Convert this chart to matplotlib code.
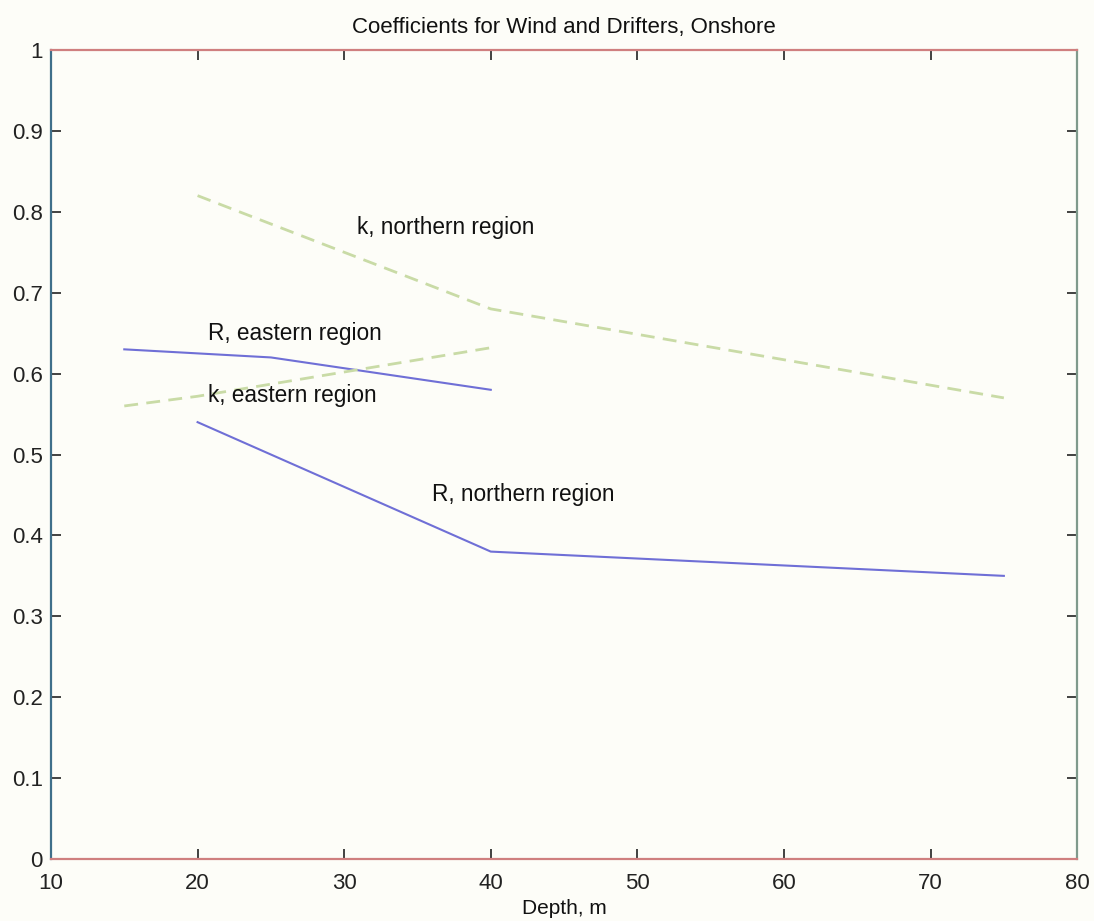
import matplotlib.pyplot as plt
import matplotlib.ticker as mticker

# data
depth_r_east = [15, 25, 40]
r_east = [0.63, 0.62, 0.58]
depth_k_east = [15, 20, 40]
k_east = [0.56, 0.572, 0.632]
depth_k_north = [20, 40, 75]
k_north = [0.82, 0.68, 0.57]
depth_r_north = [20, 40, 75]
r_north = [0.54, 0.38, 0.35]

labels = ["k, northern region", "R, eastern region", "k, eastern region", "R, northern region"]
label_x = [30.9, 20.7, 20.7, 36.0]
label_y = [0.78, 0.65, 0.573, 0.45]

x_ticks = [10, 20, 30, 40, 50, 60, 70, 80]
y_ticks = [0, 0.1, 0.2, 0.3, 0.4, 0.5, 0.6, 0.7, 0.8, 0.9, 1]

plt.rcParams['font.family'] = ['Liberation Sans', 'DejaVu Sans']

fig = plt.figure(figsize=(10.94, 9.21), dpi=100)
fig.patch.set_facecolor('#fdfdf8')
ax = fig.add_axes([0.0466, 0.0673, 0.938, 0.8784])
ax.set_facecolor('#fdfdf8')

blue = '#6f6fd6'
green = '#c9dba6'
ax.plot(depth_r_east, r_east, color=blue, lw=1.5)
ax.plot(depth_r_north, r_north, color=blue, lw=1.5)
ax.plot(depth_k_east, k_east, color=green, lw=2.0, ls=(0, (5, 3)))
ax.plot(depth_k_north, k_north, color=green, lw=2.0, ls=(0, (5, 3)))

for t, x, y in zip(labels, label_x, label_y):
    ax.text(x, y, t, fontsize=16.3, color='#111111', va='center', ha='left')

ax.set_xlim(10, 80)
ax.set_ylim(0, 1)
ax.set_xticks(x_ticks)
ax.set_yticks(y_ticks)
ax.yaxis.set_major_formatter(mticker.FuncFormatter(lambda v, p: '%g' % v))
ax.tick_params(direction='in', length=7, width=1.2, top=True, right=True,
               labelsize=16, colors='#222222')
ax.tick_params(axis='x', pad=10)
ax.tick_params(axis='y', pad=6)

ax.spines['top'].set_color('#cf7f7f')
ax.spines['bottom'].set_color('#cf7f7f')
ax.spines['left'].set_color('#3f6f8a')
ax.spines['right'].set_color('#7f9a8c')
for s in ax.spines.values():
    s.set_linewidth(1.6)

ax.set_title("Coefficients for Wind and Drifters, Onshore", fontsize=16, color='#111111', pad=12)
ax.set_xlabel("Depth, m", fontsize=15, color='#111111', labelpad=4)

fig.savefig("out.png", dpi=100, facecolor=fig.get_facecolor())
